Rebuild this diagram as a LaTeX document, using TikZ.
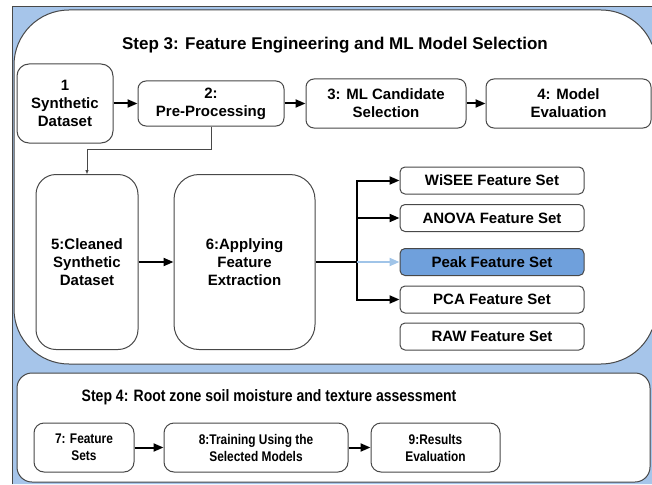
\documentclass[tikz,border=0pt]{standalone}
\usepackage{fontspec}
\setmainfont{Liberation Sans}
\newfontfamily\narrowsans{Liberation Sans}[FakeStretch=0.85]
\usetikzlibrary{arrows.meta}
\definecolor{backblue}{HTML}{A6C5EA}
\definecolor{peakblue}{RGB}{111,160,220}
\definecolor{edgegray}{RGB}{72,72,72}
\definecolor{lightarrow}{RGB}{160,196,232}

\begin{document}
\begin{tikzpicture}[x=1pt,y=-1pt,
  box/.style={draw=edgegray, line width=1pt, fill=white, align=center,
    inner sep=0pt, font=\fontsize{15}{18}\selectfont\bfseries},
  setbox/.style={box, rounded corners=5pt, minimum width=184pt, minimum height=27pt},
  lowbox/.style={box, rounded corners=10pt, minimum height=49pt,
    font=\narrowsans\fontsize{14}{17}\selectfont\bfseries},
  flow/.style={line width=2pt, -{Triangle[length=10pt,width=8pt]}},
  thinflow/.style={line width=0.9pt, draw=edgegray, -{Triangle[length=4pt,width=3pt]}},
  outline/.style={draw=edgegray, line width=1pt}]

\useasboundingbox (0,0) rectangle (652,484);
\fill[white] (0,0) rectangle (652,484);

% blue frame: the page area with both stage panels cut out of it
\fill[backblue, even odd rule] (12,7) rectangle (652,484)
  (14,65) arc[start angle=180, end angle=270, radius=55]
  -- (601,10) arc[start angle=270, end angle=338, radius=55]
  -- (652,329.6) arc[start angle=22, end angle=90, radius=55]
  -- (69,364) arc[start angle=90, end angle=180, radius=55] -- cycle
  [rounded corners=15pt] (17,373) rectangle (650,482);
\draw[outline] (12,484) -- (12,7) -- (652,7);

% outlines of the two stage panels
\draw[outline] (652,329.6) arc[start angle=22, end angle=90, radius=55]
  -- (69,364) arc[start angle=90, end angle=180, radius=55]
  -- (14,65) arc[start angle=180, end angle=270, radius=55]
  -- (601,10) arc[start angle=270, end angle=338, radius=55];
\draw[outline, rounded corners=15pt] (17,373) rectangle (650,482);

% Step 3
\node[font=\fontsize{17}{20}\selectfont\bfseries] (title3) at (335,45)
  {Step 3: Feature Engineering and ML Model Selection};

\node[box, rounded corners=12pt, minimum width=96pt, minimum height=79pt] (b1) at (65,103.5)
  {1\\Synthetic\\Dataset};
\node[box, rounded corners=8pt, minimum width=146pt, minimum height=45pt] (b2) at (211,103.5)
  {2:\\Pre-Processing};
\node[box, rounded corners=8pt, minimum width=160pt, minimum height=49pt] (b3) at (386,103.5)
  {3: ML Candidate\\Selection};
\node[box, rounded corners=8pt, minimum width=165pt, minimum height=49pt] (b4) at (568.5,103.5)
  {4: Model\\Evaluation};

\node[box, rounded corners=20pt, minimum width=102pt, minimum height=175pt] (b5) at (87,262)
  {5:Cleaned\\Synthetic\\Dataset};
\node[box, rounded corners=25pt, minimum width=141pt, minimum height=175pt] (b6) at (244.5,262)
  {6:Applying\\Feature\\Extraction};

\node[setbox] (f1) at (492,180.5) {WiSEE Feature Set};
\node[setbox] (f2) at (492,218) {ANOVA Feature Set};
\node[setbox, fill=peakblue] (f3) at (492,262) {Peak Feature Set};
\node[setbox] (f4) at (492,299.5) {PCA Feature Set};
\node[setbox] (f5) at (492,336.5) {RAW Feature Set};

\draw[flow] (b1) -- (b2);
\draw[flow] (b2) -- (b3);
\draw[flow] (b3) -- (b4);
\draw[thinflow] (b2.south) -- ++(0,23) -| (b5.north);
\draw[flow] (b5) -- (b6);

\coordinate (split) at (357,262);
\draw[line width=2pt] (b6.east) -- (split);
\draw[flow] (split) |- (f1.west);
\draw[flow] (split) |- (f2.west);
\draw[flow] (split) |- (f4.west);
\draw[flow, draw=lightarrow, fill=lightarrow] (split) -- (f3.west);

% Step 4
\node[font=\narrowsans\fontsize{16.5}{20}\selectfont\bfseries] (title4) at (269,397)
  {Step 4: Root zone soil moisture and texture assessment};

\node[lowbox, minimum width=100pt] (b7) at (84,447.5) {7: Feature\\Sets};
\node[lowbox, minimum width=184pt] (b8) at (256,447.5) {8:Training Using the\\Selected Models};
\node[lowbox, minimum width=129pt] (b9) at (435.5,447.5) {9:Results\\Evaluation};

\draw[flow] (b7) -- (b8);
\draw[flow] (b8) -- (b9);
\end{tikzpicture}
\end{document}
